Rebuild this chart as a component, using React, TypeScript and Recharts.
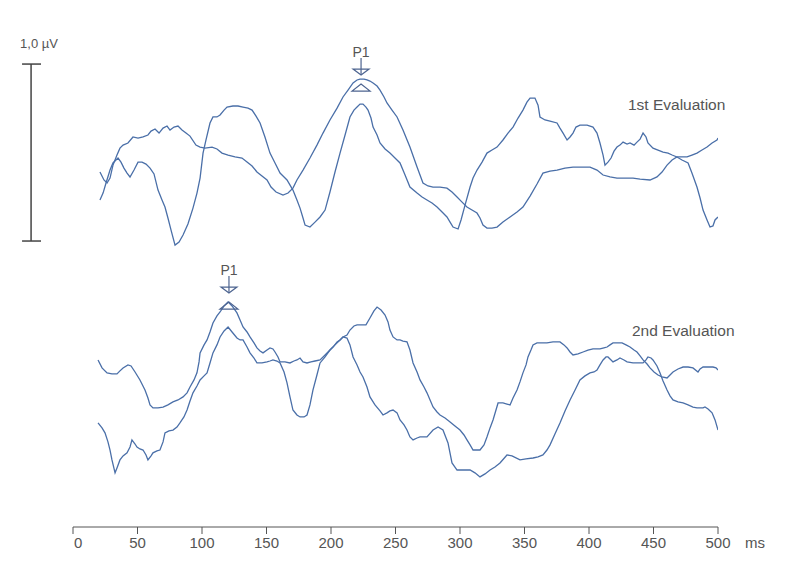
import React from 'react';
import { LineChart, Line, XAxis, YAxis, ReferenceLine, ReferenceDot } from 'recharts';

// latency (ms), amplitude (µV)
const eval1TraceA: [number, number][] = [
  [20.9, 0.39], [24.0, 0.345], [26.4, 0.328], [28.7, 0.356], [31.0, 0.429], [34.1, 0.486], [36.4, 0.525],
  [38.8, 0.542], [42.6, 0.554], [46.5, 0.588], [50.4, 0.582], [54.3, 0.588], [58.1, 0.599], [60.5, 0.621],
  [63.6, 0.633], [66.7, 0.61], [69.8, 0.638], [72.9, 0.65], [75.2, 0.627], [78.3, 0.644], [81.4, 0.65],
  [84.5, 0.627], [87.6, 0.61], [90.7, 0.593], [95.3, 0.542], [98.5, 0.531], [102.3, 0.525], [107.8, 0.531],
  [111.6, 0.52], [115.5, 0.497], [120.2, 0.486], [125.6, 0.475], [131.0, 0.469], [134.9, 0.446], [138.8, 0.424],
  [142.6, 0.39], [146.5, 0.367], [150.4, 0.345], [153.5, 0.305], [157.4, 0.277], [162.8, 0.26], [166.7, 0.271],
  [170.5, 0.299], [173.6, 0.345], [178.3, 0.401], [183.7, 0.469], [189.1, 0.542], [193.8, 0.61], [199.2, 0.684],
  [204.7, 0.751], [209.3, 0.814], [213.2, 0.853], [217.1, 0.893], [220.2, 0.91], [222.5, 0.915], [225.6, 0.915],
  [227.9, 0.91], [230.2, 0.904], [232.6, 0.893], [235.7, 0.876], [238.0, 0.853], [241.1, 0.814], [243.4, 0.78],
  [247.3, 0.74], [251.2, 0.701], [255.8, 0.627], [261.2, 0.531], [266.7, 0.418], [271.3, 0.328], [275.2, 0.311],
  [279.1, 0.305], [284.5, 0.305], [289.9, 0.299], [293.8, 0.277], [297.7, 0.249], [301.6, 0.22], [305.4, 0.192],
  [309.3, 0.175], [313.2, 0.158], [315.5, 0.13], [317.8, 0.09], [320.9, 0.073], [324.8, 0.073], [328.7, 0.079],
  [333.3, 0.107], [338.8, 0.136], [344.2, 0.164], [348.8, 0.192], [354.3, 0.254], [359.7, 0.322], [364.3, 0.384],
  [369.8, 0.395], [375.2, 0.401], [381.4, 0.412], [387.6, 0.418], [393.0, 0.418], [400.8, 0.418], [406.2, 0.401],
  [410.9, 0.373], [416.3, 0.362], [421.7, 0.356], [427.9, 0.356], [434.1, 0.356], [439.6, 0.35], [447.3, 0.345],
  [452.7, 0.362], [456.6, 0.39], [460.5, 0.429], [464.4, 0.458], [468.2, 0.475], [472.1, 0.475], [476.0, 0.475],
  [479.8, 0.486], [483.7, 0.497], [487.6, 0.514], [491.5, 0.531], [495.4, 0.554], [499.2, 0.571], [500, 0.582],
];

const eval1TraceB: [number, number][] = [
  [20.9, 0.232], [23.3, 0.271], [25.6, 0.328], [28.7, 0.401], [31.0, 0.441], [34.9, 0.469], [37.2, 0.446],
  [39.5, 0.412], [41.9, 0.384], [44.2, 0.362], [47.3, 0.401], [50.4, 0.446], [53.5, 0.446], [56.6, 0.435],
  [59.7, 0.412], [62.8, 0.379], [65.9, 0.288], [69.0, 0.232], [71.3, 0.192], [73.6, 0.13], [76.0, 0.062],
  [79.1, -0.023], [82.2, -0.006], [85.3, 0.034], [89.1, 0.096], [93.0, 0.186], [96.1, 0.271], [98.5, 0.356],
  [100.8, 0.497], [103.1, 0.571], [106.2, 0.667], [108.5, 0.701], [111.6, 0.701], [114.0, 0.712], [117.1, 0.74],
  [119.4, 0.757], [124.0, 0.763], [127.9, 0.763], [131.8, 0.757], [135.7, 0.751], [138.8, 0.74], [141.9, 0.706],
  [145.0, 0.667], [148.8, 0.588], [152.7, 0.497], [156.6, 0.441], [160.5, 0.384], [163.6, 0.362], [165.9, 0.345],
  [170.5, 0.288], [173.6, 0.232], [176.0, 0.186], [178.3, 0.13], [179.9, 0.09], [183.7, 0.079], [187.6, 0.107],
  [191.5, 0.136], [195.4, 0.175], [199.2, 0.277], [203.1, 0.39], [207.0, 0.497], [210.9, 0.599], [214.7, 0.701],
  [217.8, 0.74], [220.2, 0.757], [222.5, 0.774], [224.8, 0.774], [227.1, 0.757], [228.7, 0.74], [231.0, 0.695],
  [232.6, 0.644], [235.7, 0.599], [238.0, 0.554], [241.9, 0.52], [245.7, 0.497], [249.6, 0.469], [253.5, 0.441],
  [257.4, 0.373], [261.2, 0.305], [266.7, 0.271], [270.6, 0.249], [274.4, 0.232], [278.3, 0.215], [282.2, 0.192],
  [286.1, 0.164], [289.9, 0.136], [292.3, 0.107], [294.6, 0.079], [298.5, 0.068], [300.8, 0.119], [303.9, 0.203],
  [307.8, 0.305], [310.1, 0.356], [313.2, 0.401], [317.1, 0.446], [320.9, 0.497], [324.8, 0.514], [328.7, 0.531],
  [333.3, 0.571], [337.2, 0.61], [341.1, 0.644], [345.0, 0.695], [348.8, 0.74], [351.9, 0.785], [354.3, 0.808],
  [358.1, 0.808], [360.5, 0.768], [362.0, 0.701], [365.9, 0.684], [369.8, 0.678], [375.2, 0.667], [377.5, 0.638],
  [379.9, 0.61], [383.0, 0.571], [385.3, 0.588], [387.6, 0.61], [389.9, 0.644], [393.0, 0.655], [398.5, 0.655],
  [403.1, 0.644], [406.2, 0.61], [408.5, 0.554], [410.9, 0.486], [412.4, 0.429], [414.7, 0.446], [417.1, 0.469],
  [419.4, 0.508], [421.7, 0.531], [424.0, 0.542], [426.4, 0.559], [429.5, 0.548], [431.8, 0.554], [434.9, 0.542],
  [437.2, 0.559], [439.6, 0.576], [441.9, 0.61], [444.2, 0.588], [445.7, 0.554], [449.6, 0.525], [453.5, 0.514],
  [457.4, 0.503], [461.3, 0.497], [464.4, 0.486], [468.2, 0.475], [472.1, 0.458], [476.8, 0.441], [479.8, 0.384],
  [483.7, 0.305], [486.1, 0.243], [488.4, 0.175], [491.5, 0.119], [493.8, 0.079], [496.1, 0.085], [497.7, 0.119],
  [500, 0.136],
];

const eval2TraceA: [number, number][] = [
  [19.4, 0.678], [22.5, 0.633], [26.4, 0.605], [30.2, 0.599], [34.1, 0.599], [36.4, 0.616], [38.8, 0.633],
  [42.6, 0.65], [45.0, 0.644], [48.1, 0.61], [51.9, 0.565], [55.8, 0.508], [58.1, 0.463], [59.7, 0.424],
  [62.0, 0.407], [65.9, 0.407], [69.8, 0.412], [73.6, 0.424], [77.5, 0.441], [81.4, 0.452], [85.3, 0.469],
  [88.4, 0.492], [90.7, 0.525], [93.8, 0.565], [96.1, 0.605], [97.7, 0.667], [98.5, 0.718], [101.6, 0.763],
  [103.9, 0.791], [106.2, 0.836], [108.5, 0.887], [111.6, 0.927], [114.0, 0.949], [117.1, 0.983], [120.2, 1.006],
  [123.3, 0.983], [127.1, 0.944], [129.5, 0.904], [131.8, 0.864], [134.9, 0.836], [137.2, 0.808], [140.3, 0.774],
  [142.6, 0.746], [145.0, 0.729], [147.3, 0.718], [150.4, 0.734], [152.7, 0.746], [155.0, 0.74], [156.6, 0.723],
  [158.9, 0.695], [160.5, 0.667], [164.3, 0.667], [168.2, 0.661], [171.3, 0.672], [173.6, 0.678], [176.0, 0.689],
  [178.3, 0.667], [181.4, 0.661], [184.5, 0.667], [187.6, 0.672], [191.5, 0.678], [195.4, 0.706], [199.2, 0.734],
  [201.6, 0.751], [204.7, 0.78], [207.0, 0.791], [209.3, 0.808], [212.4, 0.819], [214.7, 0.847], [217.8, 0.87],
  [220.2, 0.876], [224.0, 0.876], [227.1, 0.876], [230.2, 0.915], [233.3, 0.955], [235.7, 0.977], [238.8, 0.96],
  [241.9, 0.932], [244.2, 0.893], [245.7, 0.847], [248.1, 0.808], [251.2, 0.791], [253.5, 0.791], [255.8, 0.785],
  [258.9, 0.78], [261.2, 0.734], [263.6, 0.661], [266.7, 0.61], [269.0, 0.565], [272.1, 0.525], [274.4, 0.492],
  [276.8, 0.452], [279.1, 0.412], [282.2, 0.384], [284.5, 0.367], [288.4, 0.35], [292.3, 0.328], [296.1, 0.305],
  [300.0, 0.282], [303.1, 0.254], [305.4, 0.226], [307.8, 0.198], [310.1, 0.169], [313.2, 0.169], [315.5, 0.169],
  [318.6, 0.198], [320.9, 0.243], [323.3, 0.294], [325.6, 0.339], [327.9, 0.395], [329.5, 0.435], [333.3, 0.435],
  [336.4, 0.429], [338.8, 0.424], [341.1, 0.463], [344.2, 0.508], [346.5, 0.554], [348.8, 0.605], [351.2, 0.65],
  [352.7, 0.695], [355.0, 0.734], [356.6, 0.763], [359.7, 0.774], [362.0, 0.774], [367.4, 0.774], [372.1, 0.78],
  [377.5, 0.78], [380.6, 0.763], [383.0, 0.746], [385.3, 0.723], [387.6, 0.706], [391.5, 0.712], [395.4, 0.723],
  [399.2, 0.734], [403.1, 0.74], [408.5, 0.74], [411.6, 0.746], [414.0, 0.751], [416.3, 0.763], [418.6, 0.774],
  [422.5, 0.774], [425.6, 0.774], [428.7, 0.763], [431.8, 0.751], [434.9, 0.734], [437.2, 0.723], [439.6, 0.701],
  [441.9, 0.678], [445.0, 0.655], [447.3, 0.633], [450.4, 0.61], [453.5, 0.593], [456.6, 0.582], [460.5, 0.576],
  [462.8, 0.593], [465.1, 0.61], [469.0, 0.627], [472.9, 0.638], [476.8, 0.638], [480.6, 0.633], [484.5, 0.61],
  [486.1, 0.627], [488.4, 0.638], [492.3, 0.638], [496.1, 0.638], [498.5, 0.633], [500, 0.621],
];

const eval2TraceB: [number, number][] = [
  [19.4, 0.322], [22.5, 0.294], [24.8, 0.266], [27.1, 0.215], [28.7, 0.169], [30.2, 0.113], [32.6, 0.04],
  [34.1, 0.068], [36.4, 0.113], [38.8, 0.136], [41.9, 0.153], [44.2, 0.186], [45.7, 0.226], [48.1, 0.203],
  [49.6, 0.186], [51.9, 0.175], [54.3, 0.169], [56.6, 0.141], [58.1, 0.113], [60.5, 0.136], [62.0, 0.153],
  [65.1, 0.164], [67.4, 0.169], [69.8, 0.215], [71.3, 0.266], [74.4, 0.277], [77.5, 0.282], [80.6, 0.299],
  [82.9, 0.322], [86.0, 0.356], [88.4, 0.395], [90.7, 0.446], [93.0, 0.492], [96.1, 0.531], [98.5, 0.565],
  [101.6, 0.588], [103.9, 0.605], [106.2, 0.661], [108.5, 0.718], [111.6, 0.763], [114.0, 0.808], [117.1, 0.842],
  [120.2, 0.864], [123.3, 0.836], [127.1, 0.802], [129.5, 0.791], [131.8, 0.791], [134.9, 0.751], [137.2, 0.718],
  [140.3, 0.689], [142.6, 0.661], [146.5, 0.661], [150.4, 0.667], [152.7, 0.672], [155.0, 0.678], [158.1, 0.672],
  [160.5, 0.661], [163.6, 0.61], [165.9, 0.548], [168.2, 0.469], [170.5, 0.395], [173.6, 0.367], [176.0, 0.356],
  [179.1, 0.356], [181.4, 0.367], [183.7, 0.424], [186.0, 0.508], [189.1, 0.593], [191.5, 0.661], [195.4, 0.695],
  [199.2, 0.734], [203.1, 0.763], [207.0, 0.791], [209.3, 0.808], [212.4, 0.802], [214.7, 0.763], [217.1, 0.695],
  [220.2, 0.65], [222.5, 0.61], [224.8, 0.582], [227.9, 0.525], [230.2, 0.469], [234.1, 0.424], [238.0, 0.39],
  [240.3, 0.367], [243.4, 0.379], [245.7, 0.39], [248.1, 0.395], [251.2, 0.379], [253.5, 0.339], [256.6, 0.311],
  [258.9, 0.282], [261.2, 0.243], [263.6, 0.226], [266.7, 0.237], [269.0, 0.243], [274.4, 0.243], [279.1, 0.282],
  [283.0, 0.299], [286.8, 0.282], [290.7, 0.209], [293.8, 0.096], [297.7, 0.056], [302.3, 0.056], [307.8, 0.056],
  [311.6, 0.04], [315.5, 0.017], [319.4, 0.034], [323.3, 0.056], [327.1, 0.073], [331.0, 0.096], [336.4, 0.141],
  [340.3, 0.136], [346.5, 0.113], [351.2, 0.119], [356.6, 0.124], [360.5, 0.13], [364.3, 0.141], [367.4, 0.169],
  [369.8, 0.198], [373.6, 0.26], [377.5, 0.322], [381.4, 0.39], [385.3, 0.452], [389.2, 0.508], [393.0, 0.565],
  [396.9, 0.588], [400.8, 0.605], [403.9, 0.61], [406.2, 0.621], [408.5, 0.65], [410.9, 0.678], [413.2, 0.695],
  [414.7, 0.695], [417.1, 0.678], [418.6, 0.667], [421.7, 0.678], [424.0, 0.689], [427.1, 0.678], [429.5, 0.667],
  [434.1, 0.661], [441.9, 0.661], [444.2, 0.678], [445.7, 0.695], [448.1, 0.689], [449.6, 0.678], [452.7, 0.644],
  [455.0, 0.605], [457.4, 0.559], [460.5, 0.508], [462.8, 0.475], [465.1, 0.452], [469.0, 0.441], [472.9, 0.435],
  [476.8, 0.424], [480.6, 0.412], [483.7, 0.407], [486.1, 0.407], [488.4, 0.407], [489.9, 0.412], [492.3, 0.401],
  [495.4, 0.379], [497.7, 0.339], [500, 0.282],
];

const msTicks = [0, 50, 100, 150, 200, 250, 300, 350, 400, 450, 500];

// P1 arrow tips: [latency ms, µV]
const p1First: [number, number] = [223.3, 0.938];
const p1Second: [number, number] = [120.9, 1.056];

const FONT = "'Liberation Sans', Arial, sans-serif";
const TRACE = '#4a6fa8';
const INK = '#555';
const MARK = '#4d6490';

const toRows = (pts: [number, number][]) => pts.map(([t, v]) => ({ t, v }));

const MsTick = (props: any) => {
  const { x, y, payload, index } = props;
  return (
    <text
      x={index === 0 ? x + 1 : x}
      y={y + 12}
      textAnchor={index === 0 ? 'start' : 'middle'}
      fontSize={15}
      fill={INK}
      fontFamily={FONT}
    >
      {payload.value}
    </text>
  );
};

const textShape = (text: string, size: number) => (props: any) => (
  <text x={props.cx} y={props.cy} fontSize={size} fill={INK} fontFamily={FONT}>
    {text}
  </text>
);

const P1Marker = (props: any) => {
  const { cx, cy } = props;
  return (
    <g fill="none" stroke={MARK} strokeWidth={1.2}>
      <text x={cx} y={cy - 18} textAnchor="middle" fontSize={14} fill={INK} stroke="none" fontFamily={FONT}>
        P1
      </text>
      <line x1={cx} y1={cy - 17} x2={cx} y2={cy} />
      <polygon points={`${cx - 8},${cy - 6} ${cx + 8},${cy - 6} ${cx},${cy}`} />
      <polygon points={`${cx},${cy + 9} ${cx - 9},${cy + 16} ${cx + 9},${cy + 16}`} />
    </g>
  );
};

const App: React.FC = () => {
  return (
    <div style={{ position: 'absolute', left: 0, top: 0, background: '#fff' }}>
      <LineChart width={793} height={581} margin={{ top: 0, right: 75, bottom: 24, left: 73 }}>
        <XAxis
          type="number"
          dataKey="t"
          domain={[0, 500]}
          ticks={msTicks}
          allowDataOverflow
          height={30}
          tickSize={7}
          stroke={INK}
          tick={<MsTick />}
        />
        <YAxis yAxisId="first" type="number" domain={[-1.616, 1.362]} hide allowDataOverflow />
        <YAxis yAxisId="second" type="number" domain={[-0.266, 2.712]} hide allowDataOverflow />

        {/* 1,0 µV calibration bar */}
        <ReferenceLine yAxisId="first" ifOverflow="visible" stroke="#444" strokeWidth={1.5}
          segment={[{ x: -32.5, y: 0 }, { x: -32.5, y: 1 }]} />
        <ReferenceLine yAxisId="first" ifOverflow="visible" stroke="#444" strokeWidth={1.5}
          segment={[{ x: -39.5, y: 1 }, { x: -24.8, y: 1 }]} />
        <ReferenceLine yAxisId="first" ifOverflow="visible" stroke="#444" strokeWidth={1.5}
          segment={[{ x: -39.5, y: 0 }, { x: -24.8, y: 0 }]} />
        <ReferenceDot yAxisId="first" x={-41} y={1.09} ifOverflow="visible" shape={textShape('1,0 µV', 13)} />
        <ReferenceDot yAxisId="first" x={520.9} y={-1.734} ifOverflow="visible" shape={textShape('ms', 15)} />

        <Line yAxisId="first" data={toRows(eval1TraceA)} dataKey="v" type="linear" stroke={TRACE}
          strokeWidth={1.3} dot={false} isAnimationActive={false} />
        <Line yAxisId="first" data={toRows(eval1TraceB)} dataKey="v" type="linear" stroke={TRACE}
          strokeWidth={1.3} dot={false} isAnimationActive={false} />
        <Line yAxisId="second" data={toRows(eval2TraceA)} dataKey="v" type="linear" stroke={TRACE}
          strokeWidth={1.3} dot={false} isAnimationActive={false} />
        <Line yAxisId="second" data={toRows(eval2TraceB)} dataKey="v" type="linear" stroke={TRACE}
          strokeWidth={1.3} dot={false} isAnimationActive={false} />

        <ReferenceDot yAxisId="first" x={430.2} y={0.74} shape={textShape('1st Evaluation', 15.5)} />
        <ReferenceDot yAxisId="second" x={433.3} y={0.814} shape={textShape('2nd Evaluation', 15.5)} />

        <ReferenceDot yAxisId="first" x={p1First[0]} y={p1First[1]} shape={P1Marker} />
        <ReferenceDot yAxisId="second" x={p1Second[0]} y={p1Second[1]} shape={P1Marker} />
      </LineChart>
    </div>
  );
};

export default App;
